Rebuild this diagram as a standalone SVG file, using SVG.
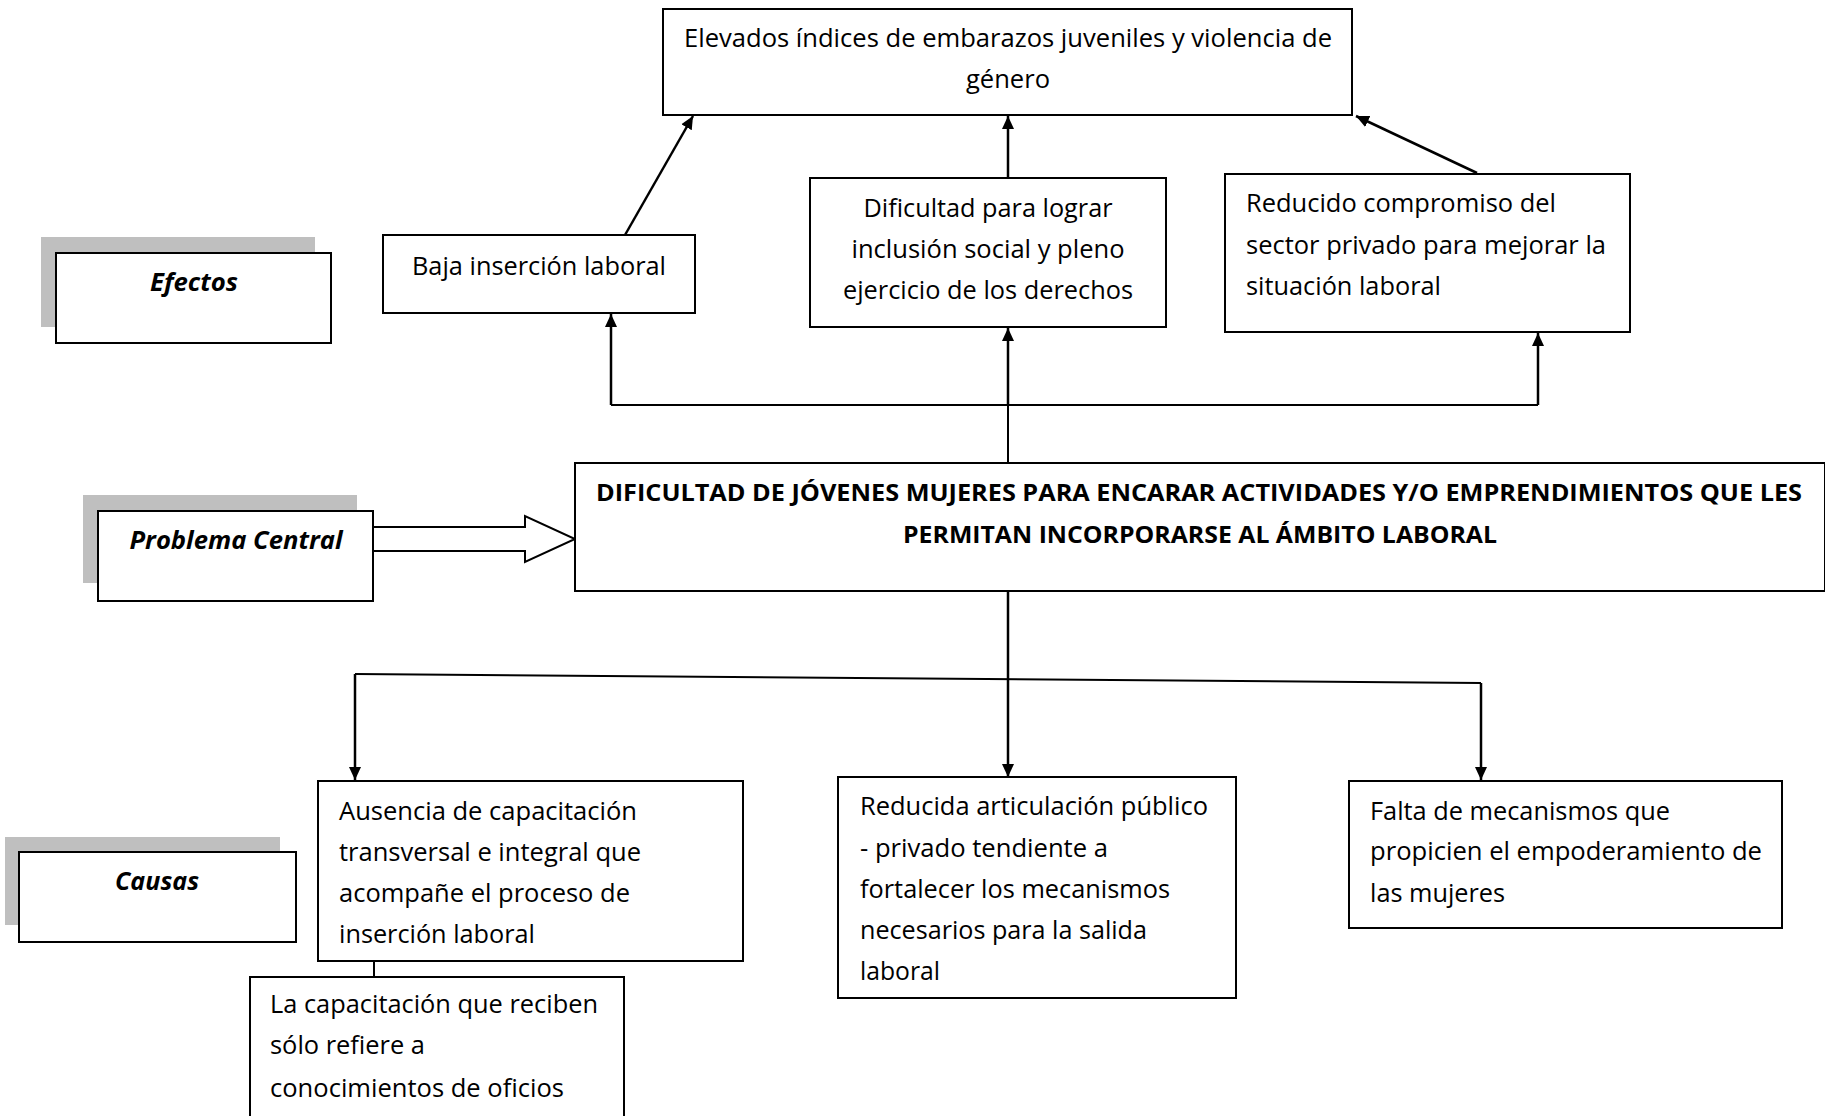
<svg xmlns="http://www.w3.org/2000/svg" width="1825" height="1116" viewBox="0 0 1825 1116">
<defs>
<marker id="ah" markerUnits="userSpaceOnUse" markerWidth="14" markerHeight="14" refX="13" refY="7" orient="auto">
<path d="M0,1 L13,7 L0,13 z" fill="#000"/>
</marker>
<style>
.box{fill:#fff;stroke:#000;stroke-width:2}
.shadow{fill:#bfbfbf;stroke:none}
.t{font-family:"Open Sans","Liberation Sans",sans-serif;font-size:25px;fill:#000}
.c{text-anchor:middle}
.lbl{font-family:"Open Sans","Liberation Sans",sans-serif;font-size:25px;font-weight:bold;font-style:italic;fill:#000;text-anchor:middle}
.big{font-family:"Open Sans","Liberation Sans",sans-serif;font-size:23px;font-weight:bold;fill:#000;text-anchor:middle}
.ln{fill:none;stroke:#000;stroke-width:2}
.arr{fill:none;stroke:#000;stroke-width:2.5;marker-end:url(#ah)}
</style>
</defs>
<rect width="1825" height="1116" fill="#fff"/>

<g id="connectors">
<polyline class="ln" points="611,405 1538,405"/>
<line class="ln" x1="1008" y1="463" x2="1008" y2="405"/>
<line class="arr" x1="611" y1="405" x2="611" y2="314"/>
<line class="arr" x1="1008" y1="405" x2="1008" y2="328"/>
<line class="arr" x1="1538" y1="405" x2="1538" y2="333"/>
<line class="arr" x1="625" y1="235" x2="693" y2="116"/>
<line class="arr" x1="1008" y1="178" x2="1008" y2="116"/>
<line class="arr" x1="1477" y1="173" x2="1356" y2="116"/>
<path d="M373,527 L525,527 L525,516 L575,539 L525,562 L525,551 L373,551" fill="#fff" stroke="#000" stroke-width="2"/>
<line class="arr" x1="1008" y1="591" x2="1008" y2="777"/>
<polyline class="ln" points="355,674 1481,683"/>
<line class="arr" x1="355" y1="674" x2="355" y2="780"/>
<line class="arr" x1="1481" y1="683" x2="1481" y2="780"/>
<line class="ln" x1="374" y1="961" x2="374" y2="977"/>
</g>

<g id="top-effect">
<rect class="box" x="663" y="9" width="689" height="106"/>
<text class="t c" x="1008" y="47" textLength="648" lengthAdjust="spacingAndGlyphs">Elevados índices de embarazos juveniles y violencia de</text>
<text class="t c" x="1008" y="88" textLength="84" lengthAdjust="spacingAndGlyphs">género</text>
</g>

<g id="efectos-label">
<rect class="shadow" x="41" y="237" width="274" height="90"/>
<rect class="box" x="56" y="253" width="275" height="90"/>
<text class="lbl" x="194" y="291" textLength="88" lengthAdjust="spacingAndGlyphs">Efectos</text>
</g>

<g id="baja">
<rect class="box" x="383" y="235" width="312" height="78"/>
<text class="t c" x="539" y="275" textLength="254" lengthAdjust="spacingAndGlyphs">Baja inserción laboral</text>
</g>

<g id="dificultad">
<rect class="box" x="810" y="178" width="356" height="149"/>
<text class="t c" x="988" y="217" textLength="249" lengthAdjust="spacingAndGlyphs">Dificultad para lograr</text>
<text class="t c" x="988" y="258" textLength="273" lengthAdjust="spacingAndGlyphs">inclusión social y pleno</text>
<text class="t c" x="988" y="299" textLength="290" lengthAdjust="spacingAndGlyphs">ejercicio de los derechos</text>
</g>

<g id="reducido">
<rect class="box" x="1225" y="174" width="405" height="158"/>
<text class="t" x="1246" y="212" textLength="310" lengthAdjust="spacingAndGlyphs">Reducido compromiso del</text>
<text class="t" x="1246" y="254" textLength="360" lengthAdjust="spacingAndGlyphs">sector privado para mejorar la</text>
<text class="t" x="1246" y="295" textLength="195" lengthAdjust="spacingAndGlyphs">situación laboral</text>
</g>

<g id="problema-label">
<rect class="shadow" x="83" y="495" width="274" height="88"/>
<rect class="box" x="98" y="511" width="275" height="90"/>
<text class="lbl" x="236" y="549" textLength="213" lengthAdjust="spacingAndGlyphs">Problema Central</text>
</g>

<g id="central">
<rect class="box" x="575" y="463" width="1250" height="128"/>
<text class="big" x="1199" y="501" textLength="1206" lengthAdjust="spacingAndGlyphs">DIFICULTAD DE JÓVENES MUJERES PARA ENCARAR ACTIVIDADES Y/O EMPRENDIMIENTOS QUE LES</text>
<text class="big" x="1200" y="543" textLength="594" lengthAdjust="spacingAndGlyphs">PERMITAN INCORPORARSE AL ÁMBITO LABORAL</text>
</g>

<g id="causas-label">
<rect class="shadow" x="5" y="837" width="275" height="88"/>
<rect class="box" x="19" y="852" width="277" height="90"/>
<text class="lbl" x="157" y="890" textLength="84" lengthAdjust="spacingAndGlyphs">Causas</text>
</g>

<g id="ausencia">
<rect class="box" x="318" y="781" width="425" height="180"/>
<text class="t" x="339" y="820" textLength="298" lengthAdjust="spacingAndGlyphs">Ausencia de capacitación</text>
<text class="t" x="339" y="861" textLength="302" lengthAdjust="spacingAndGlyphs">transversal e integral que</text>
<text class="t" x="339" y="902" textLength="291" lengthAdjust="spacingAndGlyphs">acompañe el proceso de</text>
<text class="t" x="339" y="943" textLength="196" lengthAdjust="spacingAndGlyphs">inserción laboral</text>
</g>

<g id="capacitacion">
<rect class="box" x="250" y="977" width="374" height="150"/>
<text class="t" x="270" y="1013" textLength="328" lengthAdjust="spacingAndGlyphs">La capacitación que reciben</text>
<text class="t" x="270" y="1054" textLength="155" lengthAdjust="spacingAndGlyphs">sólo refiere a</text>
<text class="t" x="270" y="1097" textLength="294" lengthAdjust="spacingAndGlyphs">conocimientos de oficios</text>
</g>

<g id="reducida">
<rect class="box" x="838" y="777" width="398" height="221"/>
<text class="t" x="860" y="815" textLength="348" lengthAdjust="spacingAndGlyphs">Reducida articulación público</text>
<text class="t" x="860" y="857" textLength="248" lengthAdjust="spacingAndGlyphs">- privado tendiente a</text>
<text class="t" x="860" y="898" textLength="310" lengthAdjust="spacingAndGlyphs">fortalecer los mecanismos</text>
<text class="t" x="860" y="939" textLength="287" lengthAdjust="spacingAndGlyphs">necesarios para la salida</text>
<text class="t" x="860" y="980" textLength="80" lengthAdjust="spacingAndGlyphs">laboral</text>
</g>

<g id="falta">
<rect class="box" x="1349" y="781" width="433" height="147"/>
<text class="t" x="1370" y="820" textLength="300" lengthAdjust="spacingAndGlyphs">Falta de mecanismos que</text>
<text class="t" x="1370" y="860" textLength="392" lengthAdjust="spacingAndGlyphs">propicien el empoderamiento de</text>
<text class="t" x="1370" y="902" textLength="135" lengthAdjust="spacingAndGlyphs">las mujeres</text>
</g>
</svg>
